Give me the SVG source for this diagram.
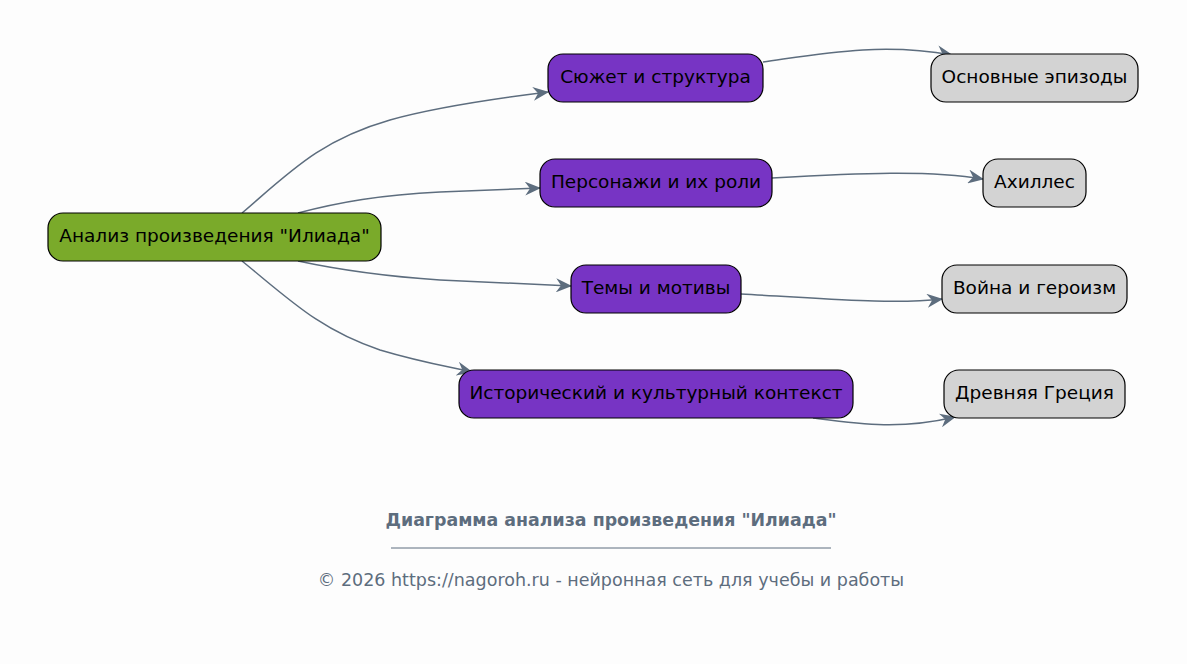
<svg xmlns="http://www.w3.org/2000/svg" width="1187" height="664" viewBox="0 0 1187 664">
<style>
.n rect{stroke:#000;stroke-width:1.2}
.root rect{fill:#7aaa2a}
.mid rect{fill:#7734c4}
.leaf rect{fill:#d3d3d3}
.n text{font-family:"DejaVu Sans",sans-serif;font-size:18.5px;fill:#000;text-anchor:middle;dominant-baseline:central}
#edges path{fill:none;stroke:#5d6d7e;stroke-width:1.5;marker-end:url(#arr)}
.ft{font-family:"DejaVu Sans",sans-serif;fill:#5d6d7e;text-anchor:middle}
</style>
<defs>
<marker id="arr" viewBox="0 0 16 14" refX="15" refY="7" markerWidth="16" markerHeight="14" markerUnits="userSpaceOnUse" orient="auto">
<path d="M0,0 L16,7 L0,14 L5,7 z" fill="#5d6d7e"/>
</marker>
</defs>
<rect width="1187" height="664" fill="#fdfdfd"/>
<g id="edges">
<path d="M242,213 C290,172 320,140 390,120 C440,106 500,98 548,92"/>
<path d="M298,213 C340,202 380,195 440,192 L540,188"/>
<path d="M298,261 C340,270 380,276 440,280 L571,286"/>
<path d="M242,261 C290,300 320,330 380,350 C420,362 450,367 472,372"/>
<path d="M763,62 C820,54 880,42 952,55"/>
<path d="M772,178 C860,173 930,170 983,179"/>
<path d="M741,294 C820,298 890,305 942,299"/>
<path d="M813,418 C860,424 900,430 955,417"/>
</g>
<g id="n0" class="n root"><rect x="48" y="213" width="333" height="48" rx="15"/><text x="214.5" y="235.5">Анализ произведения "Илиада"</text></g>
<g id="n1" class="n mid"><rect x="548" y="54" width="215" height="48" rx="15"/><text x="655.5" y="76.5">Сюжет и структура</text></g>
<g id="n2" class="n mid"><rect x="540" y="159" width="232" height="48" rx="15"/><text x="656" y="181.5">Персонажи и их роли</text></g>
<g id="n3" class="n mid"><rect x="571" y="265" width="170" height="48" rx="15"/><text x="656" y="287.5">Темы и мотивы</text></g>
<g id="n4" class="n mid"><rect x="459" y="370" width="394" height="48" rx="15"/><text x="656" y="392.5">Исторический и культурный контекст</text></g>
<g id="n5" class="n leaf"><rect x="931" y="54" width="207" height="48" rx="15"/><text x="1034.5" y="76.5">Основные эпизоды</text></g>
<g id="n6" class="n leaf"><rect x="983" y="159" width="103" height="48" rx="15"/><text x="1034.5" y="181.5">Ахиллес</text></g>
<g id="n7" class="n leaf"><rect x="942" y="265" width="185" height="48" rx="15"/><text x="1034.5" y="287.5">Война и героизм</text></g>
<g id="n8" class="n leaf"><rect x="944" y="370" width="181" height="48" rx="15"/><text x="1034.5" y="392.5">Древняя Греция</text></g>
<g id="footer">
<text class="ft" x="611" y="526" font-size="17.4" font-weight="bold">Диаграмма анализа произведения "Илиада"</text>
<line x1="391" y1="548" x2="831" y2="548" stroke="#5d6d7e" stroke-width="1"/>
<text class="ft" x="611" y="586" font-size="17.5">© 2026 https://nagoroh.ru - нейронная сеть для учебы и работы</text>
</g>
</svg>
